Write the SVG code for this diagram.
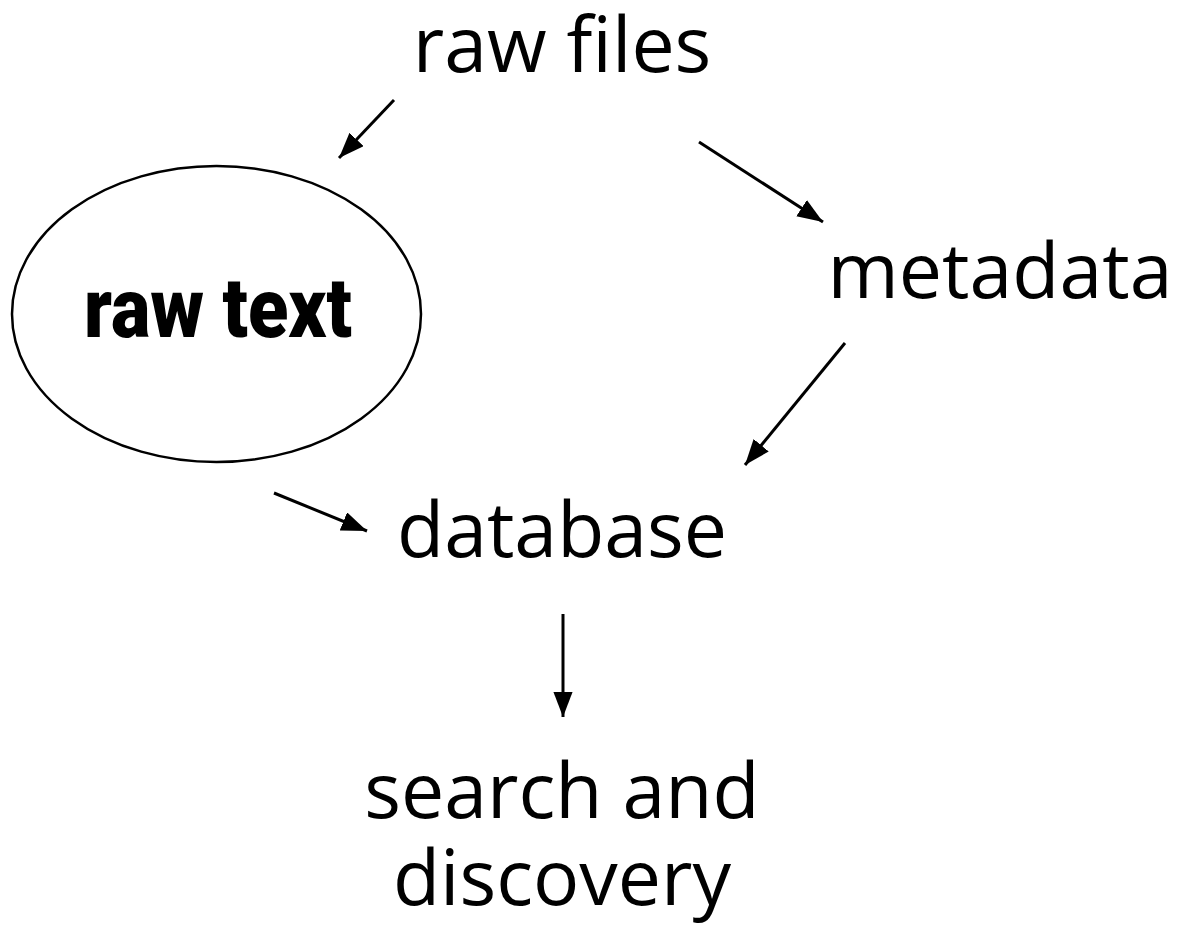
<svg xmlns="http://www.w3.org/2000/svg" width="1177" height="937" viewBox="0 0 1177 937">
<defs>
<style>
.lbl{font-family:"Open Sans","Noto Sans",sans-serif;font-size:77px;fill:#000;text-anchor:middle}
.bold{font-family:"Roboto","Liberation Sans",sans-serif;font-weight:900;font-size:84px;fill:#000}
.edge{stroke:#000;stroke-width:3;fill:none;marker-end:url(#ah)}
</style>
<marker id="ah" viewBox="0 0 10 10" refX="10" refY="5" markerWidth="8.5" markerHeight="6.5" markerUnits="strokeWidth" orient="auto" preserveAspectRatio="none">
<path d="M0,0 L10,5 L0,10 Z" fill="#000"/>
</marker>
</defs>
<rect width="1177" height="937" fill="#fff"/>
<g id="connectors">
<line class="edge" x1="394" y1="100" x2="339" y2="158"/>
<line class="edge" x1="699" y1="142" x2="823" y2="222"/>
<line class="edge" x1="845" y1="343" x2="745" y2="465"/>
<line class="edge" x1="274" y1="493" x2="367" y2="531"/>
<line class="edge" x1="563" y1="614" x2="563" y2="717"/>
</g>
<g id="raw-files"><text class="lbl" x="562" y="72">raw files</text></g>
<g id="raw-text">
<ellipse cx="216.5" cy="314" rx="204.5" ry="148" fill="none" stroke="#000" stroke-width="2.5"/>
<text class="bold" x="84" y="337" textLength="268" lengthAdjust="spacingAndGlyphs">raw text</text>
</g>
<g id="metadata"><text class="lbl" x="1000" y="298">metadata</text></g>
<g id="database"><text class="lbl" x="562" y="557">database</text></g>
<g id="search"><text class="lbl" x="562" y="818">search and</text><text class="lbl" x="562" y="905">discovery</text></g>
</svg>
